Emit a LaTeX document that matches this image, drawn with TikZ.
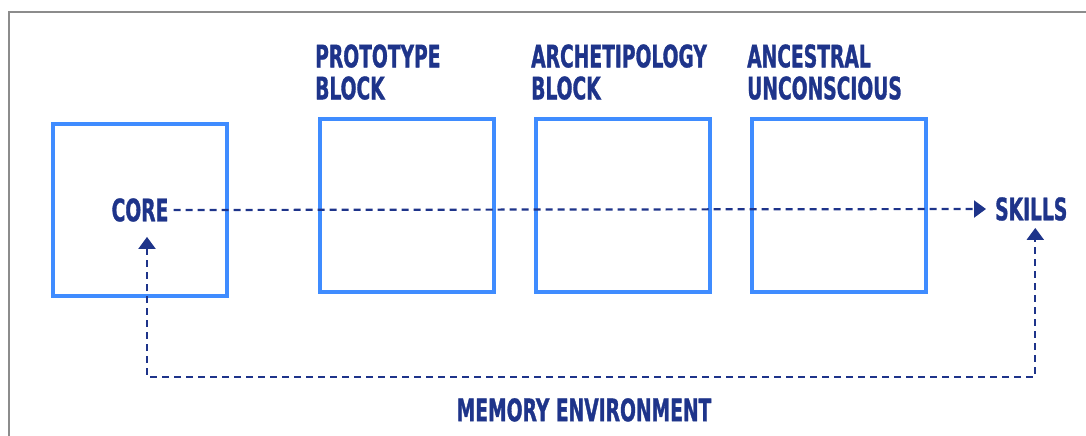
\documentclass[tikz,border=0pt]{standalone}
\usepackage{fontspec}
\newfontfamily\dinfont{DejaVu Sans Condensed}[FakeStretch=0.67, BoldFeatures={FakeBold=1}]
\usetikzlibrary{arrows.meta, positioning, calc}
\definecolor{blockblue}{RGB}{63, 140, 255}
\definecolor{navy}{RGB}{30, 52, 138}
\definecolor{framegray}{RGB}{140, 140, 140}
\tikzstyle{block} = [rectangle, draw=blockblue, line width=4pt, minimum width=174pt, minimum height=173pt, inner sep=0pt]
\tikzstyle{title} = [font=\dinfont\bfseries\fontsize{31}{32}\selectfont, text=navy, align=left, inner sep=0pt]
\tikzstyle{tip} = [-{Triangle[width=17pt,length=12pt]}]
\tikzstyle{flow} = [navy, line width=2.2pt, dash pattern=on 7pt off 5pt, tip]

\begin{document}
\begin{tikzpicture}[x=1pt, y=-1pt]
    \useasboundingbox (0, 0) rectangle (1086, 436);
    % Frame
    \draw[framegray, line width=2pt] (8.5, 436) -- (8.5, 12.5) -- (1086, 12.5);

    % Blocks
    \node[block, minimum height=172pt] (core) at (140, 210) {};
    \node[block] (proto) at (407, 205.5) {};
    \node[block] (arche) at (623, 205.5) {};
    \node[block] (ances) at (839, 205.5) {};

    % Block titles
    \node[title, anchor=south west] (protolbl) at ([xshift=-3pt, yshift=17pt]proto.north west) {PROTOTYPE\\BLOCK};
    \node[title, anchor=south west] (archelbl) at ([xshift=-3pt, yshift=17pt]arche.north west) {ARCHETIPOLOGY\\BLOCK};
    \node[title, anchor=south west] (anceslbl) at ([xshift=-3pt, yshift=17pt]ances.north west) {ANCESTRAL\\UNCONSCIOUS};

    % Core and skills
    \node[title] (corelbl) at (core.center) {CORE};
    \node[title, anchor=west] (skills) at (995, 209) {SKILLS};
    \coordinate (memo) at (584, 377);
    \node[title, below=21pt of memo] (memlbl) {MEMORY ENVIRONMENT};

    % Connectors
    \draw[flow, shorten <=5pt, shorten >=9pt] (corelbl.east) -- (skills.west);
    \draw[flow, {Triangle[width=17pt,length=12pt]}-{Triangle[width=17pt,length=12pt]}, shorten <=15pt, shorten >=7pt]
        ([xshift=7pt]corelbl.south) |- (memo) -| ([xshift=4pt]skills.south);
\end{tikzpicture}
\end{document}
